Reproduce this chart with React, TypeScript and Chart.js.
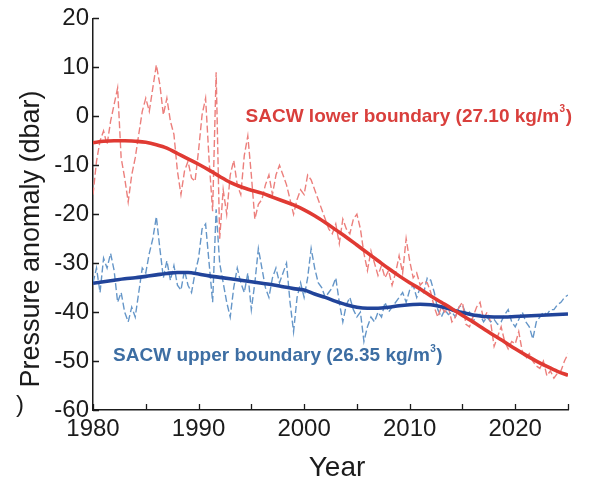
import React, { useEffect, useRef } from 'react';
import { Chart, registerables } from 'chart.js';

Chart.register(...registerables);

const FONT = '"Liberation Sans", Arial, Helvetica, sans-serif';

// Noisy series sampled every 1/3 year from 1980.0
const NOISY_START = 1980;
const NOISY_STEP = 1 / 3;

const redNoisy = [
  -16, -9.2, -5, -3, -5.8, -1, 2.4, 5.8, -8.5, -12.6,
  -17.5, -12, -8.5, -3.7, 1, 3.7, 1, 5.8, 10.5, 6.5,
  0.3, 3.7, -1, -3.7, -11.2, -16, -11.2, -9.2, -12.6, -13.3,
  -7, 0.3, 3.7, -9, -19.4,
  9, -25, -15, -20, -12, -9, -14, -16, -8, -4,
  -12, -21, -18, -17, -14, -12, -16, -12, -10, -12,
  -14, -17, -20, -17, -15, -16, -12, -13, -15, -17, -19, -21, -23,
  -24, -22, -26, -21, -23, -24, -21, -20, -23, -28,
  -31.5, -27.5, -30, -32.5, -30.5, -33, -31.5, -34.5, -32, -28.5,
  -32, -25, -29.5, -33, -32, -34.5, -33.7, -34, -36, -39, -41, -39, -40, -39,
  -42, -41, -39, -38, -42.5, -43, -41, -39, -38, -41.5,
  -40, -42, -47, -45, -43, -46, -47.5, -46, -46.5, -44,
  -48, -49.5, -48.5, -50, -51, -51.5, -50, -53, -52, -53.5, -52.5, -52, -50, -48.5,
];

const blueNoisy = [
  -34, -31, -36, -29, -31, -28, -31.5, -38, -36, -40,
  -42, -39, -41, -36, -31, -32, -28, -25, -20.5, -27,
  -33, -29.5, -33.5, -30.5, -34.5, -35.5, -31.5, -34.5, -36, -32,
  -29, -23, -22, -30, -38,
  -19, -30, -34, -38, -41, -35, -31, -34, -36, -32,
  -39.5, -34, -27, -31, -35, -37, -33, -31, -34, -32,
  -30, -38, -44, -37, -34, -37, -33, -27, -31, -34, -35, -37, -36,
  -35, -33, -38, -42, -38.5, -37, -39.5, -41, -40, -46,
  -43, -41, -42, -40, -41, -38, -40, -39, -38, -37,
  -36, -38, -35.5, -34.5, -37, -35, -36, -33, -33.5, -36, -39.5, -41, -39.5, -40.5,
  -40, -41, -39, -38.5, -40.5, -40, -42, -40.5, -40.5, -42,
  -41, -42, -41.5, -42.5, -42, -40.5, -39.5, -42, -43, -41.5,
  -40, -42, -43, -45.5, -42, -41, -40, -40.5, -39.5, -39.5, -38.5, -38, -37, -36.5,
];

// Smoothed fits, yearly
const smoothYears = [
  1980, 1981, 1982, 1983, 1984, 1985, 1986, 1987, 1988, 1989,
  1990, 1991, 1992, 1993, 1994, 1995, 1996, 1997, 1998, 1999,
  2000, 2001, 2002, 2003, 2004, 2005, 2006, 2007, 2008, 2009,
  2010, 2011, 2012, 2013, 2014, 2015, 2016, 2017, 2018, 2019,
  2020, 2021, 2022, 2023, 2024, 2025,
];
const redSmooth = [
  -5.4, -5.1, -5.0, -5.0, -5.1, -5.3, -5.8, -6.5, -7.6, -8.7,
  -9.8, -11.0, -12.3, -13.5, -14.4, -15.1, -15.7, -16.5, -17.3, -18.1,
  -19.1, -20.3, -21.7, -23.2, -24.7, -26.3, -27.9, -29.5, -31.1, -32.6,
  -34.0, -35.3, -36.7, -38.0, -39.3, -40.7, -42.0, -43.4, -44.8, -46.1,
  -47.5, -48.8, -50.0, -51.1, -52.1, -52.9,
];
const blueSmooth = [
  -34.1, -33.8, -33.5, -33.2, -33.0, -32.7, -32.4, -32.1, -31.9, -31.9,
  -32.2, -32.6, -32.9, -33.2, -33.5, -33.8, -34.1, -34.4, -34.8, -35.2,
  -35.5, -36.3, -37.0, -37.8, -38.5, -39.0, -39.2, -39.2, -39.0, -38.7,
  -38.5, -38.4, -38.5, -38.9, -39.5, -40.1, -40.6, -40.9, -41.0, -41.0,
  -40.9, -40.8, -40.7, -40.6, -40.5, -40.4,
];

const yTicks = [-60, -50, -40, -30, -20, -10, 0, 10, 20];
const xTickValues = [1980, 1985, 1990, 1995, 2000, 2005, 2010, 2015, 2020, 2025];

const redLabel = { text: 'SACW lower boundary (27.10 kg/m', sup: '3', close: ')', x: 1994.45, y: 0 };
const blueLabel = { text: 'SACW upper boundary (26.35 kg/m', sup: '3', close: ')', x: 1981.9, y: -49 };

const RED = '#e03a33';
const RED_LIGHT = '#ec7f7c';
const BLUE = '#21449a';
const BLUE_LIGHT = '#6596c8';
const RED_TEXT = '#d93f3c';
const BLUE_TEXT = '#3d6ea3';
const INK = '#1b1b1b';

const toPoints = (vals: number[]) =>
  vals.map((v, i) => ({ x: NOISY_START + i * NOISY_STEP, y: v }));

const decorPlugin = {
  id: 'decor',
  afterDraw(chart: any) {
    const { ctx, scales, chartArea } = chart;
    const xs = scales.x;
    const ys = scales.y;
    ctx.save();
    // inward ticks
    ctx.strokeStyle = INK;
    ctx.lineWidth = 1.3;
    ctx.beginPath();
    yTicks.forEach((v) => {
      const py = Math.round(ys.getPixelForValue(v)) + 0.5;
      ctx.moveTo(chartArea.left, py);
      ctx.lineTo(chartArea.left + 6, py);
    });
    xTickValues.forEach((v) => {
      const px = Math.round(xs.getPixelForValue(v)) + 0.5;
      ctx.moveTo(px, chartArea.bottom);
      ctx.lineTo(px, chartArea.bottom - 6);
    });
    ctx.stroke();

    // annotations
    const drawLabel = (lab: any, color: string) => {
      const px = xs.getPixelForValue(lab.x);
      const py = ys.getPixelForValue(lab.y);
      ctx.fillStyle = color;
      ctx.textBaseline = 'middle';
      ctx.textAlign = 'left';
      ctx.font = `bold 19px ${FONT}`;
      ctx.fillText(lab.text, px, py);
      const w = ctx.measureText(lab.text).width;
      ctx.font = `bold 10px ${FONT}`;
      ctx.fillText(lab.sup, px + w + 0.5, py - 7);
      const sw = ctx.measureText(lab.sup).width;
      ctx.font = `bold 19px ${FONT}`;
      ctx.fillText(lab.close, px + w + sw + 1, py);
    };
    drawLabel(redLabel, RED_TEXT);
    drawLabel(blueLabel, BLUE_TEXT);

    // axis titles
    ctx.fillStyle = INK;
    ctx.textAlign = 'center';
    ctx.textBaseline = 'middle';
    ctx.font = `28px ${FONT}`;
    ctx.fillText('Year', 337, 468);
    ctx.save();
    ctx.translate(32, 239);
    ctx.rotate(-Math.PI / 2);
    ctx.font = `27px ${FONT}`;
    ctx.fillText('Pressure anomaly (dbar)', 0, 0);
    ctx.restore();

    // clipped stray glyph at the left edge
    ctx.font = `24px ${FONT}`;
    ctx.textAlign = 'left';
    ctx.fillText(')', 16, 405);
    ctx.restore();
  },
};

export default function App() {
  const ref = useRef<HTMLCanvasElement>(null);
  useEffect(() => {
    if (!ref.current) return;
    const chart = new Chart(ref.current, {
      type: 'line',
      data: {
        datasets: [
          {
            data: smoothYears.map((yr, i) => ({ x: yr, y: redSmooth[i] })),
            borderColor: RED,
            borderWidth: 3.6,
            pointRadius: 0,
            cubicInterpolationMode: 'monotone',
          },
          {
            data: smoothYears.map((yr, i) => ({ x: yr, y: blueSmooth[i] })),
            borderColor: BLUE,
            borderWidth: 3.6,
            pointRadius: 0,
            cubicInterpolationMode: 'monotone',
          },
          {
            data: toPoints(redNoisy),
            borderColor: RED_LIGHT,
            borderWidth: 1.4,
            borderDash: [7, 3],
            pointRadius: 0,
            tension: 0,
          },
          {
            data: toPoints(blueNoisy),
            borderColor: BLUE_LIGHT,
            borderWidth: 1.4,
            borderDash: [7, 3],
            pointRadius: 0,
            tension: 0,
          },
        ],
      } as any,
      options: {
        animation: false,
        responsive: false,
        devicePixelRatio: 1,
        layout: { padding: { left: 0, right: 22, top: 16, bottom: 0 } },
        plugins: { legend: { display: false }, tooltip: { enabled: false } },
        scales: {
          x: {
            type: 'linear',
            min: 1980,
            max: 2025,
            grid: { display: false, drawTicks: false, tickLength: 0 },
            border: { display: true, color: INK, width: 1.5 },
            ticks: {
              stepSize: 5,
              autoSkip: false,
              maxRotation: 0,
              padding: 5,
              color: INK,
              font: { family: FONT, size: 24 },
              callback: (v: any) => (Number(v) % 10 === 0 && Number(v) < 2025 ? String(v) : ''),
            },
            afterFit: (s: any) => {
              s.height = 73;
            },
          },
          y: {
            type: 'linear',
            min: -60,
            max: 20,
            grid: { display: false, drawTicks: false, tickLength: 0 },
            border: { display: true, color: INK, width: 1.5 },
            ticks: {
              stepSize: 10,
              padding: 4,
              color: INK,
              font: { family: FONT, size: 24 },
            },
            afterFit: (s: any) => {
              s.width = 93;
            },
          },
        },
      } as any,
      plugins: [decorPlugin],
    });
    return () => chart.destroy();
  }, []);
  return (
    <div style={{ position: 'fixed', left: 0, top: 0, width: 590, height: 483, background: '#fff' }}>
      <canvas ref={ref} width={590} height={483} />
    </div>
  );
}
